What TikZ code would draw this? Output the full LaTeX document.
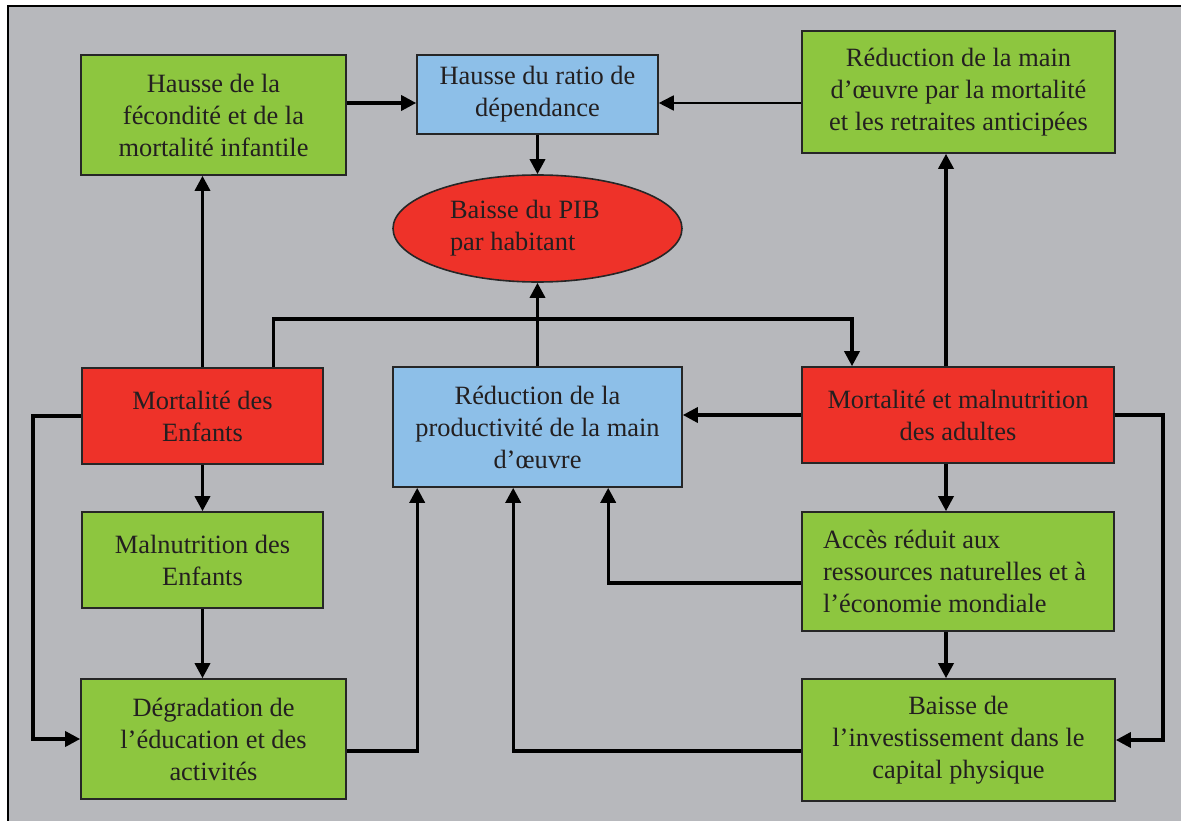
\documentclass[tikz,border=0pt]{standalone}
\usepackage{fontspec}
\setmainfont{Liberation Serif}
\usetikzlibrary{arrows.meta,shapes.geometric}
\definecolor{bg}{RGB}{183,184,188}
\definecolor{boxgreen}{RGB}{141,198,63}
\definecolor{boxred}{RGB}{238,50,41}
\definecolor{boxblue}{RGB}{141,191,232}
\definecolor{txt}{RGB}{35,31,32}
\tikzset{
  base/.style={draw=black!85, line width=1.6pt, inner sep=0pt, text=txt,
    font=\fontsize{26.4}{32}\selectfont, align=center},
  gbox/.style={base, fill=boxgreen},
  rbox/.style={base, fill=boxred},
  bbox/.style={base, fill=boxblue},
  arr/.style={draw=black, line width=3.4pt, -{Triangle[length=15pt,width=15pt]}},
  thinarr/.style={draw=black, line width=1.8pt, -{Triangle[length=15pt,width=15pt]}},
}
\begin{document}
\begin{tikzpicture}[x=1pt,y=-1pt]
\useasboundingbox (0,0) rectangle (1181,821);
\fill[white] (0,0) rectangle (1181,821);
\begin{scope}
\clip (0,0) rectangle (1181,821);
\draw[fill=bg, line width=1.6pt] (8,6) rectangle (1195,835);
\end{scope}

% nodes
\node[gbox, minimum width=265pt, minimum height=120pt] (fec) at (213.5,115)
  {Hausse de la\\fécondité et de la\\mortalité infantile};
\node[bbox, minimum width=241pt, minimum height=79pt] (ratio) at (537.5,94.5)
  {Hausse du ratio de\\dépendance};
\node[gbox, minimum width=313pt, minimum height=122pt] (redmain) at (958.5,92)
  {Réduction de la main\\d’œuvre par la mortalité\\et les retraites anticipées};
\node[base, ellipse, fill=boxred, minimum width=289pt, minimum height=107pt,
  align=flush left, text width=175pt] (pib) at (537.5,228.5)
  {Baisse du PIB\\par habitant};
\node[rbox, minimum width=241pt, minimum height=96pt] (menf) at (202.5,416)
  {Mortalité des\\Enfants};
\node[bbox, minimum width=289pt, minimum height=120pt] (prod) at (537.5,427)
  {Réduction de la\\productivité de la main\\d’œuvre};
\node[rbox, minimum width=312pt, minimum height=96pt] (mad) at (958,415)
  {Mortalité et malnutrition\\des adultes};
\node[gbox, minimum width=241pt, minimum height=96pt] (maln) at (202.5,560)
  {Malnutrition des\\Enfants};
\node[gbox, minimum width=312pt, minimum height=119pt, align=flush left, text width=270pt] (acces) at (958,571.5)
  {Accès réduit aux\\ressources naturelles et à\\l’économie mondiale};
\node[gbox, minimum width=265pt, minimum height=120pt] (degr) at (213.5,739)
  {Dégradation de\\l’éducation et des\\activités};
\node[gbox, minimum width=313pt, minimum height=122pt] (inv) at (958.5,740)
  {Baisse de\\l’investissement dans le\\capital physique};

\coordinate (topline) at (0,319);
\coordinate (leftline) at (33,0);
\coordinate (rightline) at (1163,0);

% connectors
\draw[arr] ([yshift=12pt]fec.east) -- ([yshift=12pt]fec.east -| ratio.west);
\draw[thinarr] ([yshift=-11pt]redmain.west) -- ([yshift=-11pt]redmain.west -| ratio.east);
\draw[arr] (ratio.south) -- (pib.north);
\draw[arr] (prod.north) -- (pib.south);
\draw[arr] (menf.north) -- (menf.north |- fec.south);
\draw[arr] ([xshift=71pt]menf.north) -- ([xshift=71pt]menf.north |- topline) -| ([xshift=-106pt]mad.north);
\draw[arr] ([xshift=-12pt]mad.north) -- ([xshift=-12pt]mad.north |- redmain.south);
\draw[arr] (mad.west) -- (mad.west -| prod.east);
\draw[arr] (menf.west) -- (menf.west -| leftline) |- (degr.west);
\draw[arr] (menf.south) -- (maln.north);
\draw[arr] (maln.south) -- (maln.south |- degr.north);
\draw[arr] ([yshift=-12pt]degr.east) -| ([xshift=25pt]prod.south west);
\draw[arr] ([yshift=-11.5pt]acces.west) -| ([xshift=216pt]prod.south west);
\draw[arr] ([yshift=-11pt]inv.west) -| ([xshift=121pt]prod.south west);
\draw[arr] ([xshift=-12pt]mad.south) -- ([xshift=-12pt]mad.south |- acces.north);
\draw[arr] ([xshift=-12pt]acces.south) -- ([xshift=-12pt]acces.south |- inv.north);
\draw[arr] (mad.east) -- (mad.east -| rightline) |- (inv.east);
\end{tikzpicture}
\end{document}
